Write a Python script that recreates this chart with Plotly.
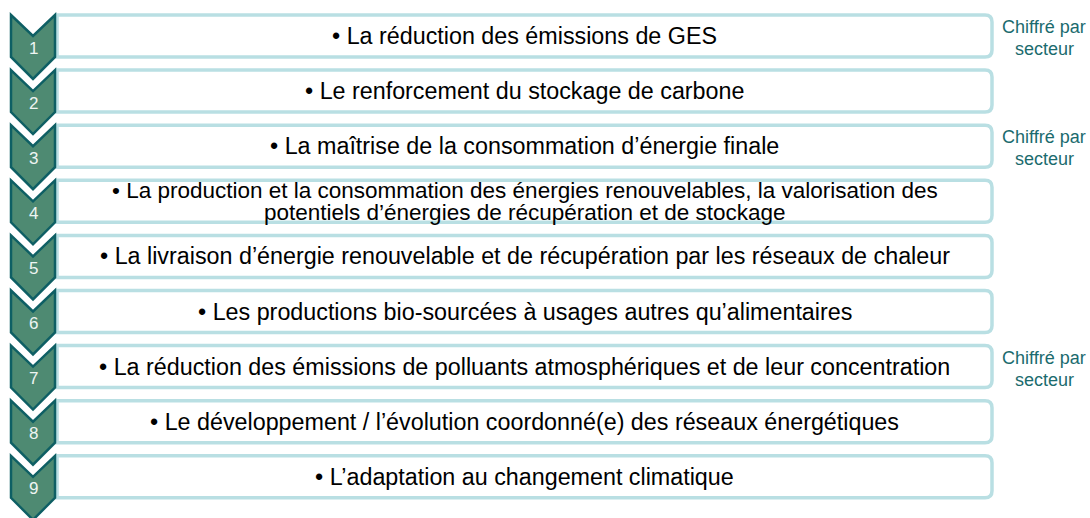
import plotly.graph_objects as go

numbers = ["1", "2", "3", "4", "5", "6", "7", "8", "9"]
items = [
    "• La réduction des émissions de GES",
    "• Le renforcement du stockage de carbone",
    "• La maîtrise de la consommation d’énergie finale",
    "• La production et la consommation des énergies renouvelables, la valorisation des<br>potentiels d’énergies de récupération et de stockage",
    "• La livraison d’énergie renouvelable et de récupération par les réseaux de chaleur",
    "• Les productions bio-sourcées à usages autres qu’alimentaires",
    "• La réduction des émissions de polluants atmosphériques et de leur concentration",
    "• Le développement / l’évolution coordonné(e) des réseaux énergétiques",
    "• L’adaptation au changement climatique",
]
notes = ["Chiffré par<br>secteur", "", "Chiffré par<br>secteur", "", "", "", "Chiffré par<br>secteur", "", ""]

W, H = 1090, 518
pitch = 55.1
top0 = 15
box_h = 42
box_l, box_r = 57, 992
chev_l, chev_r, chev_c = 11, 55, 33
notch = 21
side_h = 42
tip = 64
FONT = "Liberation Sans, Arial"

fig = go.Figure()
shapes = []
annotations = []
for i, (num, txt, note) in enumerate(zip(numbers, items, notes)):
    t = top0 + i * pitch
    r = 7
    x0, x1, y0, y1 = box_l, box_r, t, t + box_h
    path = (f"M {x0} {y0} L {x1-r} {y0} Q {x1} {y0} {x1} {y0+r} L {x1} {y1-r} "
            f"Q {x1} {y1} {x1-r} {y1} L {x0} {y1} Z")
    shapes.append(dict(type="path", path=path, xref="x", yref="y",
                       line=dict(color="#b9dfe3", width=3.5), fillcolor="white", layer="below"))
    cp = (f"M {chev_l} {t} L {chev_c} {t+notch} L {chev_r} {t} L {chev_r} {t+side_h} "
          f"L {chev_c} {t+tip} L {chev_l} {t+side_h} Z")
    shapes.append(dict(type="path", path=cp, xref="x", yref="y",
                       line=dict(color="#0e5f64", width=2.5), fillcolor="#4e8a72", layer="above"))
    annotations.append(dict(x=chev_c, y=t + 33, text=num, showarrow=False, xref="x", yref="y",
                            font=dict(family=FONT, size=17, color="#eef5f2")))
    lines = txt.split("<br>")
    n = len(lines)
    for k, ln in enumerate(lines):
        yc = t + box_h / 2 + (k - (n - 1) / 2) * 22
        annotations.append(dict(x=(box_l + box_r) / 2, y=yc, text=ln, showarrow=False,
                                xref="x", yref="y", align="center",
                                font=dict(family=FONT, size=23.3 if n == 1 else 22.5, color="black")))
    if note:
        for k, ln in enumerate(note.split("<br>")):
            annotations.append(dict(x=1044, y=t + 12 + k * 22, text=ln, showarrow=False,
                                    xref="x", yref="y", align="center",
                                    font=dict(family=FONT, size=18, color="#1b6b6e")))

fig.update_layout(
    width=W, height=H, margin=dict(l=0, r=0, t=0, b=0),
    paper_bgcolor="white", plot_bgcolor="white",
    xaxis=dict(range=[0, W], visible=False, fixedrange=True),
    yaxis=dict(range=[H, 0], visible=False, fixedrange=True),
    shapes=shapes, annotations=annotations, showlegend=False,
)
fig.write_html("out.html", config={"displayModeBar": False},
               post_script="document.body.style.margin='0';document.body.style.overflow='hidden';")
